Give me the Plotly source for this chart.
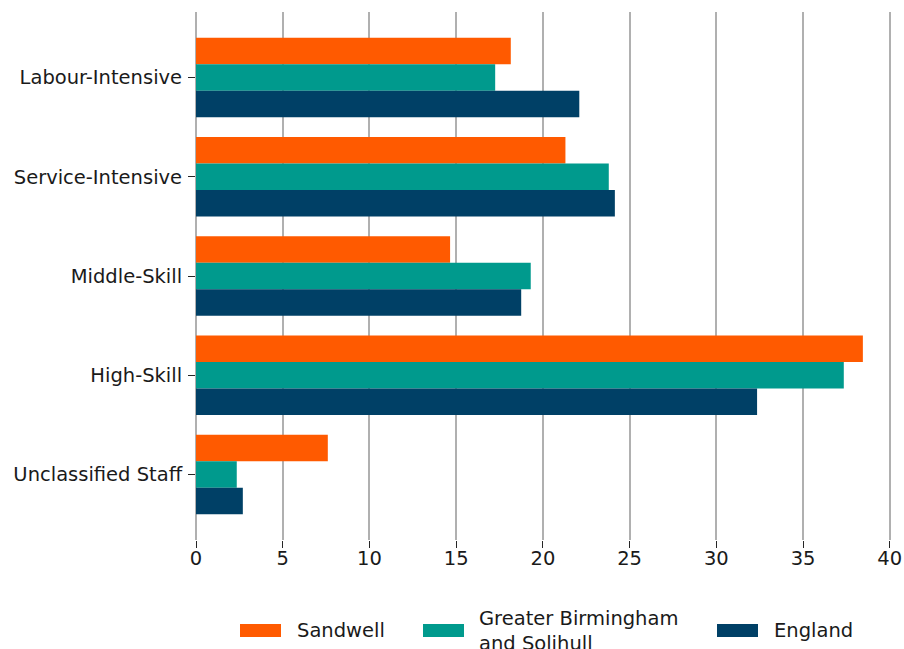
import plotly.graph_objects as go

# Share of employment by occupation type (%)
categories = ["Labour-Intensive", "Service-Intensive", "Middle-Skill", "High-Skill", "Unclassified Staff"]
sandwell = [18.15, 21.3, 14.65, 38.45, 7.6]
gbs = [17.25, 23.8, 19.3, 37.35, 2.35]
england = [22.1, 24.15, 18.75, 32.35, 2.7]

series_names = ["Sandwell", "Greater Birmingham<br>and Solihull", "England"]
series_values = [sandwell, gbs, england]
colors = ["#ff5a00", "#009a8d", "#004066"]

font_family = "DejaVu Sans"
text_color = "#1a1a1a"
font_size = 19.5

W, H = 904, 649
L, R, T, B = 196, 8, 12, 109

fig = go.Figure()
for name, vals, col in zip(series_names, series_values, colors):
    fig.add_trace(go.Bar(
        y=categories, x=vals, orientation="h", name=name,
        marker=dict(color=col, line=dict(width=0)),
        showlegend=False,
    ))


def px_to_paper(px, py):
    return (px - L) / (W - L - R), (H - B - py) / (H - T - B)


# Legend row below the axis: key rectangles with labels beside them
legend_keys = [(240, 295), (423, 477), (717, 772)]  # (key left, label left) in px
for (kx, tx), name, col in zip(legend_keys, series_names, colors):
    x0, y0 = px_to_paper(kx, 637)
    x1, y1 = px_to_paper(kx + 41, 624)
    fig.add_shape(type="rect", xref="paper", yref="paper",
                  x0=x0, x1=x1, y0=y0, y1=y1,
                  fillcolor=col, line=dict(width=0))
    ax, ay = px_to_paper(tx, 630.5)
    fig.add_annotation(x=ax, y=ay, xref="paper", yref="paper",
                       text=name, showarrow=False, align="left",
                       xanchor="left", yanchor="middle",
                       font=dict(family=font_family, size=font_size, color=text_color))

fig.update_layout(
    width=W, height=H,
    margin=dict(l=L, r=R, t=T, b=B, autoexpand=False),
    plot_bgcolor="white", paper_bgcolor="white",
    barmode="group", bargap=0.2, bargroupgap=0,
    showlegend=False,
    font=dict(family=font_family, size=font_size, color=text_color),
    xaxis=dict(
        range=[0, 40.36], tickvals=[0, 5, 10, 15, 20, 25, 30, 35, 40],
        showgrid=True, gridcolor="#b0b0b0", gridwidth=1.5,
        zeroline=True, zerolinecolor="#b0b0b0", zerolinewidth=1.5,
        showline=False,
        ticks="outside", ticklen=7, tickwidth=1.3, tickcolor="#262626",
        tickfont=dict(size=font_size), ticklabelstandoff=-6,
    ),
    yaxis=dict(
        categoryorder="array", categoryarray=categories,
        range=[4.66, -0.66],
        showgrid=False, zeroline=False, showline=False,
        ticks="outside", ticklen=7, tickwidth=1.3, tickcolor="#262626",
        tickfont=dict(size=font_size), ticklabelstandoff=2,
    ),
)

fig.write_html("out.html")
